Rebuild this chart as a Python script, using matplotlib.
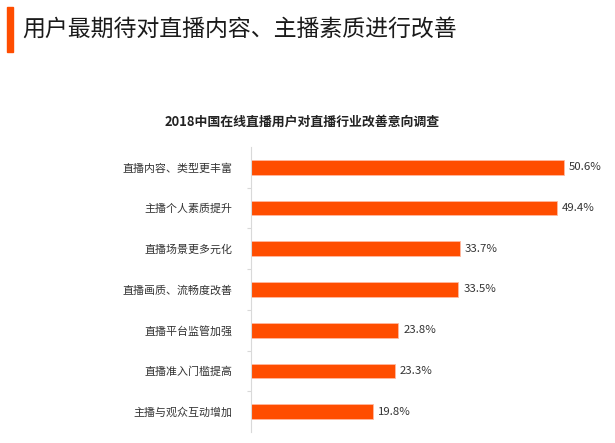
import numpy as np
import matplotlib.pyplot as plt
from matplotlib.patches import Rectangle

plt.rcParams['font.family'] = ['Noto Sans CJK SC', 'DejaVu Sans']

# Data
categories = ['直播内容、类型更丰富', '主播个人素质提升', '直播场景更多元化', '直播画质、流畅度改善',
              '直播平台监管加强', '直播准入门槛提高', '主播与观众互动增加']
values = [50.6, 49.4, 33.7, 33.5, 23.8, 23.3, 19.8]

page_title = '用户最期待对直播内容、主播素质进行改善'
chart_title = '2018中国在线直播用户对直播行业改善意向调查'

bar_color = '#FF4D00'
grid_color = '#D9D9D9'

fig = plt.figure(figsize=(6.15, 4.43), dpi=100)

# Page header with orange accent bar
fig.patches.append(Rectangle((7 / 615, 1 - 52 / 443), 6 / 615, 45 / 443,
                             transform=fig.transFigure, color='#FF4D00'))
fig.text(22 / 615, 1 - 29 / 443, page_title, fontsize=16.5, color='#1a1a1a',
         va='center', ha='left')
fig.text(302 / 615, 1 - 122 / 443, chart_title, fontsize=9.3, fontweight='bold',
         color='#222222', va='center', ha='center')

ax = fig.add_axes([250.7 / 615, 11 / 443, 347 / 615, 285 / 443])
y = np.arange(len(categories))
ax.barh(y, values, height=0.36, color=bar_color, edgecolor='#FFB9A0', linewidth=0.6)

for yi, v in zip(y, values):
    ax.text(v + 0.8, yi, f'{v:.1f}%', va='center', ha='left', fontsize=8.2, color='#333333')

ax.set_xlim(0, 56)
ax.set_ylim(len(categories) - 0.5, -0.5)
ax.set_yticks(y)
ax.set_yticklabels(categories, fontsize=7.9, color='#333333')
ax.set_yticks(np.arange(0.5, len(categories) - 0.5, 1), minor=True)
ax.tick_params(axis='y', which='major', length=0, pad=13)
ax.tick_params(axis='y', which='minor', length=3, color=grid_color, width=0.8)
ax.set_xticks([])

for side in ['top', 'right', 'bottom']:
    ax.spines[side].set_visible(False)
ax.spines['left'].set_color(grid_color)
ax.spines['left'].set_linewidth(0.8)

fig.savefig('out.png', dpi=100)
